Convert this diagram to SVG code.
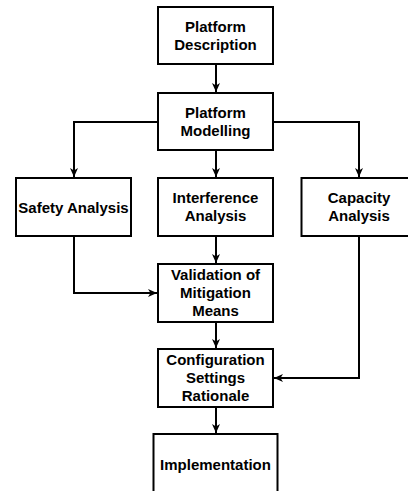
<svg xmlns="http://www.w3.org/2000/svg" width="408" height="491" viewBox="0 0 408 491">
<style>
.box{fill:#fff;stroke:#000;stroke-width:2}
.lbl{font-family:"Liberation Sans",Arial,Helvetica,sans-serif;font-size:15px;font-weight:bold;fill:#000;text-anchor:middle}
.con{fill:none;stroke:#000;stroke-width:2;marker-end:url(#arr)}
</style>
<defs>
<marker id="arr" markerUnits="userSpaceOnUse" markerWidth="12" markerHeight="10" viewBox="-11 -5 12 10" refX="0" refY="0" orient="auto">
<path d="M0,0 L-9,-4 L-6.5,0 L-9,4 Z" fill="#000"/>
</marker>
</defs>
<rect width="408" height="491" fill="#fff"/>
<g id="connectors">
<path class="con" d="M216,64 V92"/>
<path class="con" d="M216,150 V177"/>
<path class="con" d="M158,122 H74 V177"/>
<path class="con" d="M273,122 H359 V177"/>
<path class="con" d="M216,236 V263"/>
<path class="con" d="M74,236 V293 H157"/>
<path class="con" d="M216,322 V348"/>
<path class="con" d="M359,236 V378 H274"/>
<path class="con" d="M216,407 V433"/>
</g>
<g id="platform-description">
<rect class="box" x="158" y="7" width="115" height="57"/>
<text class="lbl" x="215.5" y="31.8">Platform</text>
<text class="lbl" x="215.5" y="49.8">Description</text>
</g>
<g id="platform-modelling">
<rect class="box" x="158" y="93" width="115" height="57"/>
<text class="lbl" x="215.5" y="117.8">Platform</text>
<text class="lbl" x="215.5" y="135.8">Modelling</text>
</g>
<g id="safety-analysis">
<rect class="box" x="16" y="178" width="115" height="58"/>
<text class="lbl" x="73.5" y="212.5">Safety Analysis</text>
</g>
<g id="interference-analysis">
<rect class="box" x="158" y="178" width="115" height="58"/>
<text class="lbl" x="215.5" y="203.3">Interference</text>
<text class="lbl" x="215.5" y="221.3">Analysis</text>
</g>
<g id="capacity-analysis">
<rect class="box" x="301.5" y="178" width="115" height="58"/>
<text class="lbl" x="359" y="203.3">Capacity</text>
<text class="lbl" x="359" y="221.3">Analysis</text>
</g>
<g id="validation">
<rect class="box" x="158" y="264" width="115" height="58"/>
<text class="lbl" x="215.5" y="280.3">Validation of</text>
<text class="lbl" x="215.5" y="298.3">Mitigation</text>
<text class="lbl" x="215.5" y="316.3">Means</text>
</g>
<g id="configuration">
<rect class="box" x="158" y="349" width="115" height="58"/>
<text class="lbl" x="215.5" y="365.3">Configuration</text>
<text class="lbl" x="215.5" y="383.3">Settings</text>
<text class="lbl" x="215.5" y="401.3">Rationale</text>
</g>
<g id="implementation">
<rect class="box" x="153.5" y="434" width="124" height="62"/>
<text class="lbl" x="215.5" y="469.5">Implementation</text>
</g>
</svg>
